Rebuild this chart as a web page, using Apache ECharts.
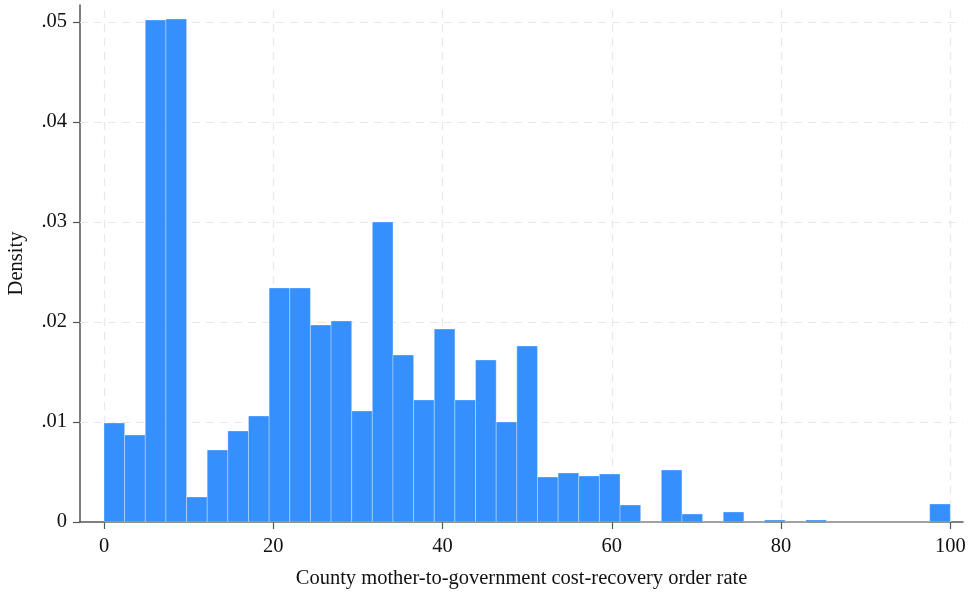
<!DOCTYPE html>
<html>
<head>
<meta charset="utf-8">
<script src="https://cdn.jsdelivr.net/npm/echarts@6/dist/echarts.min.js"></script>
<style>
  html, body { margin: 0; padding: 0; background: #fff; }
  #chart { width: 968px; height: 594px; }
</style>
</head>
<body>
<div id="chart"></div>
<script>
// Histogram: 41 equal-width bins spanning 0–100
const binStart = 0;
const binEnd = 100;
const binCount = 41;

// Density per bin, left to right
const densities = [
  0.0099, 0.0087, 0.0502, 0.0503, 0.0025, 0.0072, 0.0091, 0.0106, 0.0234, 0.0234,
  0.0197, 0.0201, 0.0111, 0.0300, 0.0167, 0.0122, 0.0193, 0.0122, 0.0162, 0.0100,
  0.0176, 0.0045, 0.0049, 0.0046, 0.0048, 0.0017, 0, 0.0052, 0.0008, 0,
  0.0010, 0, 0.0002, 0, 0.0002, 0, 0, 0, 0, 0,
  0.0018
];

const xTicks = [0, 20, 40, 60, 80, 100];
const yTicks = [0, 0.01, 0.02, 0.03, 0.04, 0.05];

const binWidth = (binEnd - binStart) / binCount;
const bins = densities.map((d, i) => [binStart + i * binWidth, binStart + (i + 1) * binWidth, d]);

const fontFamily = '"Liberation Serif", "Times New Roman", serif';
const fontSize = 20.5;
const textColor = '#111';
const axisColor = '#555';
const gridColor = '#e8e8e8';

const chart = echarts.init(document.getElementById('chart'));
chart.setOption({
  animation: false,
  grid: { left: 80, right: 5, top: 5, bottom: 72, outerBoundsMode: 'none', containLabel: false },
  xAxis: {
    type: 'value',
    min: -2.836,
    max: 101.5,
    name: 'County mother-to-government cost-recovery order rate',
    nameLocation: 'middle',
    nameGap: 46,
    nameTextStyle: { fontFamily, fontSize, color: textColor },
    axisLine: { show: true, onZero: false, lineStyle: { color: axisColor, width: 1.5 } },
    axisTick: { show: true, customValues: xTicks, length: 7, lineStyle: { color: axisColor, width: 1.2 } },
    axisLabel: { customValues: xTicks, fontFamily, fontSize, color: textColor, margin: 14 },
    splitLine: { show: false }
  },
  yAxis: {
    type: 'value',
    min: 0,
    max: 0.0517,
    name: 'Density',
    nameLocation: 'middle',
    nameGap: 53,
    nameTextStyle: { fontFamily, fontSize, color: textColor },
    axisLine: { show: true, onZero: false, lineStyle: { color: axisColor, width: 1.5 } },
    axisTick: { show: true, customValues: yTicks, length: 7, lineStyle: { color: axisColor, width: 1.2 } },
    axisLabel: {
      customValues: yTicks,
      fontFamily, fontSize, color: textColor, margin: 13,
      formatter: v => v === 0 ? '0' : v.toFixed(2).replace(/^0/, '')
    },
    splitLine: { show: false }
  },
  series: [
    {
      // dashed reference grid, kept beneath the bars
      type: 'line',
      data: [],
      silent: true,
      z: 1,
      markLine: {
        z: 1,
        symbol: 'none',
        silent: true,
        animation: false,
        label: { show: false },
        lineStyle: { color: gridColor, type: [8, 6], width: 1.2 },
        data: xTicks.map(x => ({ xAxis: x })).concat(yTicks.slice(1).map(y => ({ yAxis: y })))
      }
    },
    {
      type: 'custom',
      z: 5,
      data: bins,
      renderItem: (params, api) => {
        const p0 = api.coord([api.value(0), api.value(2)]);
        const p1 = api.coord([api.value(1), 0]);
        return {
          type: 'rect',
          shape: { x: p0[0], y: p0[1], width: p1[0] - p0[0], height: p1[1] - p0[1] },
          style: { fill: '#3590fe', stroke: 'rgba(255,255,255,0.3)', lineWidth: 1 }
        };
      }
    }
  ]
});
</script>
</body>
</html>
